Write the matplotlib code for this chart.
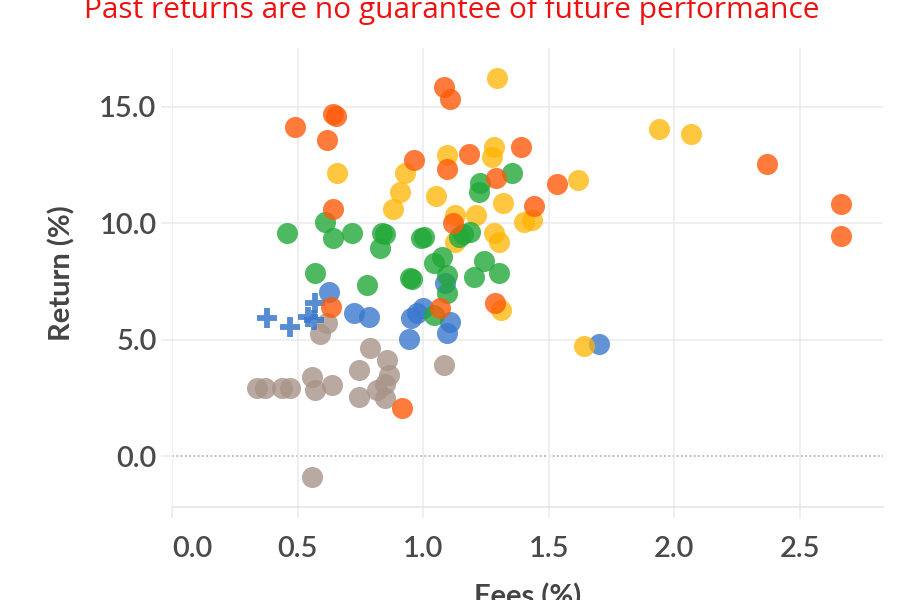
import matplotlib
matplotlib.use("Agg")
import matplotlib.pyplot as plt
from matplotlib.ticker import FixedLocator

# fund data: fees (%) vs return (%), one list pair per group
orange_fees = [0.641, 0.652, 0.488, 0.617, 0.641, 0.962, 1.082, 1.108, 1.093, 1.181, 1.390,
               1.291, 1.534, 1.443, 1.119, 0.633, 1.069, 1.288, 0.916, 2.367, 2.665, 2.665]
orange_ret = [14.70, 14.62, 14.15, 13.58, 10.60, 12.70, 15.87, 15.33, 12.32, 12.98, 13.26,
              11.93, 11.69, 10.74, 10.00, 6.39, 6.35, 6.56, 2.05, 12.53, 10.83, 9.47]

yellow_fees = [1.295, 0.657, 0.929, 0.909, 0.880, 1.095, 1.281, 1.275, 1.053, 1.318, 1.401,
               1.434, 1.128, 1.212, 1.281, 1.301, 1.128, 1.308, 1.616, 1.937, 2.068, 1.640]
yellow_ret = [16.23, 12.17, 12.17, 11.36, 10.60, 12.94, 13.29, 12.86, 11.17, 10.86, 10.07,
              10.14, 10.36, 10.36, 9.57, 9.21, 9.21, 6.27, 11.86, 14.04, 13.82, 4.74]

green_fees = [1.354, 1.228, 1.221, 1.188, 1.142, 0.457, 0.610, 0.643, 0.716, 0.836, 0.850,
              0.827, 1.003, 0.990, 1.075, 1.042, 1.241, 1.301, 0.570, 0.776, 0.949, 0.955,
              1.204, 1.095, 1.095, 1.042, 1.160]
green_ret = [12.17, 11.72, 11.36, 9.64, 9.42, 9.57, 10.07, 9.36, 9.57, 9.60, 9.55,
             8.93, 9.42, 9.35, 8.56, 8.31, 8.38, 7.85, 7.85, 7.35, 7.66, 7.60,
             7.68, 7.78, 6.99, 6.06, 9.55]

blue_fees = [0.627, 0.723, 0.783, 0.952, 0.975, 0.999, 0.944, 1.108, 1.095, 1.088, 1.700]
blue_ret = [7.06, 6.13, 5.99, 5.92, 6.15, 6.38, 5.02, 5.77, 5.30, 7.42, 4.80]

plus_fees = [0.378, 0.470, 0.543, 0.565, 0.570]
plus_ret = [5.92, 5.56, 5.99, 5.85, 6.56]

gray_fees = [0.590, 0.617, 0.789, 1.082, 0.856, 0.863, 0.743, 0.557, 0.637, 0.570, 0.338,
             0.371, 0.437, 0.470, 0.816, 0.849, 0.743, 0.849, 0.557]
gray_ret = [5.27, 5.70, 4.63, 3.91, 4.13, 3.48, 3.70, 3.41, 3.05, 2.84, 2.91,
            2.91, 2.91, 2.91, 2.84, 3.12, 2.55, 2.48, -0.89]

x_ticks = [0.0, 0.5, 1.0, 1.5, 2.0, 2.5]
y_ticks = [0.0, 5.0, 10.0, 15.0]

TICK_FONT = "Lato"

fig = plt.figure(figsize=(9, 6), dpi=100)
ax = fig.add_axes([0.191, 0.155, 0.79, 0.765])

dot = 230
ax.scatter(gray_fees, gray_ret, s=dot, color="#a89488", alpha=0.8, linewidths=0, zorder=3)
ax.scatter(blue_fees, blue_ret, s=dot, color="#3a78cc", alpha=0.8, linewidths=0, zorder=4)
ax.scatter(plus_fees, plus_ret, s=190, marker="+", color="#3a78cc", alpha=0.85,
           linewidths=4.2, zorder=4)
ax.scatter(yellow_fees, yellow_ret, s=dot, color="#ffb400", alpha=0.75, linewidths=0, zorder=5)
ax.scatter(green_fees, green_ret, s=dot, color="#22a838", alpha=0.8, linewidths=0, zorder=6)
ax.scatter(orange_fees, orange_ret, s=dot, color="#ff5a0a", alpha=0.8, linewidths=0, zorder=7)

ax.set_xlim(0, 2.83)
ax.set_ylim(-2.18, 17.53)

ax.xaxis.set_major_locator(FixedLocator(x_ticks))
ax.yaxis.set_major_locator(FixedLocator(y_ticks))
ax.set_xticklabels([f"{v:.1f}" for v in x_ticks])
ax.set_yticklabels([f"{v:.1f}" for v in y_ticks])

# grid: light lines, dotted zero line
ax.grid(True, color="#ececec", linewidth=1.2, zorder=0)
for line in ax.get_ygridlines():
    if abs(line.get_ydata()[0]) < 1e-9:
        line.set_visible(False)
ax.axhline(0, color="#aaaaaa", linewidth=1.1, linestyle=(0, (1.2, 1.6)), zorder=1)

for side in ["top", "right", "left"]:
    ax.spines[side].set_visible(False)
ax.spines["bottom"].set_color("#e6e6e6")
ax.spines["bottom"].set_linewidth(1.2)

ax.tick_params(axis="both", length=8, width=1.2, color="#ececec",
               labelcolor="#4a4a4a", labelsize=21)
ax.tick_params(axis="x", pad=13)
ax.tick_params(axis="y", pad=3)
for lab in ax.get_xticklabels() + ax.get_yticklabels():
    lab.set_fontfamily(TICK_FONT)
    lab.set_fontweight("semibold")
ax.get_xticklabels()[0].set_horizontalalignment("left")

fig.text(0.069, 0.545, "Return (%)", rotation=90, ha="center", va="center",
         fontsize=21, fontweight="bold", color="#444444", family=TICK_FONT)
fig.text(0.586, 1 - 583 / 600, "Fees (%)", ha="center", va="top",
         fontsize=21, fontweight="bold", color="#444444", family=TICK_FONT)

fig.text(0.502, 1 - 18 / 600, "Past returns are no guarantee of future performance",
         ha="center", va="baseline", fontsize=21.5, color="#ee1111", family="Open Sans")

fig.savefig("out.png", dpi=100, facecolor="white")
